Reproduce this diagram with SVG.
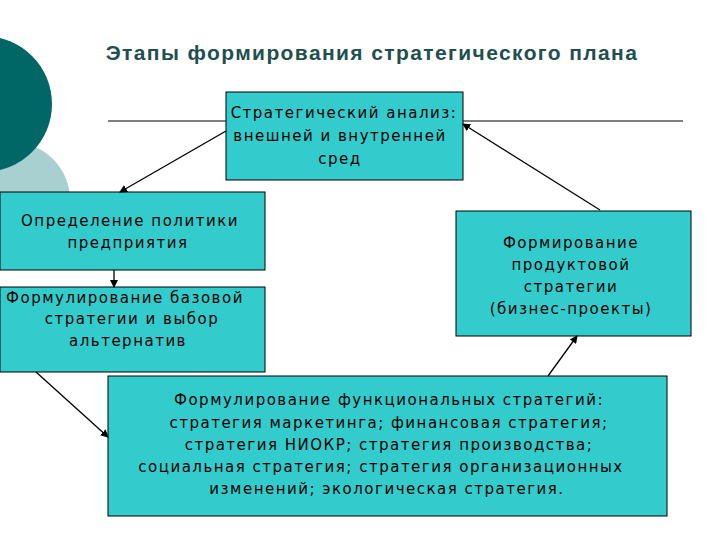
<svg xmlns="http://www.w3.org/2000/svg" width="720" height="540" viewBox="0 0 720 540">
<style>
.box{fill:#33cccc;stroke:#000;stroke-width:1}
text{font-family:"DejaVu Sans","Liberation Sans",sans-serif;font-size:15px;letter-spacing:1.5px;fill:#000;text-anchor:middle}
.c{stroke:#000;stroke-width:1.3;fill:none;marker-end:url(#a)}
</style>
<defs><marker id="a" markerWidth="8" markerHeight="8" refX="7" refY="4" orient="auto" markerUnits="userSpaceOnUse"><path d="M0,0L8,4L0,8z" fill="#000"/></marker></defs>
<rect width="720" height="540" fill="#fff"/>
<circle cx="12" cy="200" r="58" fill="#a8d0d0"/>
<circle cx="-16" cy="104" r="68" fill="#006666"/>
<text x="372" y="60" style="font-family:'Liberation Sans',Arial,sans-serif;font-weight:bold;font-size:21px;letter-spacing:1.4px;fill:#1f4f4f">Этапы формирования стратегического плана</text>
<line x1="108" y1="121" x2="683" y2="121" stroke="#000"/>
<g id="n1"><rect class="box" x="226" y="92" width="237" height="88"/><text x="344" y="118">Стратегический анализ:</text><text x="340" y="141">внешней и внутренней</text><text x="340" y="164">сред</text></g>
<g id="n2"><rect class="box" x="0" y="192" width="265" height="78"/><text x="130" y="226">Определение политики</text><text x="128" y="248">предприятия</text></g>
<g id="n3"><rect class="box" x="0" y="287" width="265" height="85"/><text x="125" y="303">Формулирование базовой</text><text x="132" y="324">стратегии и выбор</text><text x="128" y="346">альтернатив</text></g>
<g id="n4"><rect class="box" x="456" y="211" width="235" height="125"/><text x="571" y="248">Формирование</text><text x="571" y="270">продуктовой</text><text x="571" y="292">стратегии</text><text x="571" y="314">(бизнес-проекты)</text></g>
<g id="n5"><rect class="box" x="108" y="376" width="559" height="140"/><text x="389" y="405">Формулирование функциональных стратегий:</text><text x="389" y="428">стратегия маркетинга; финансовая стратегия;</text><text x="389" y="450">стратегия НИОКР; стратегия производства;</text><text x="381" y="472">социальная стратегия; стратегия организационных</text><text x="387" y="494">изменений; экологическая стратегия.</text></g>
<g id="connectors">
<line class="c" x1="226" y1="131" x2="120" y2="192"/>
<line class="c" x1="114" y1="270" x2="114" y2="287"/>
<line class="c" x1="36" y1="372" x2="108" y2="437"/>
<line class="c" x1="548" y1="376" x2="577" y2="336"/>
<line class="c" x1="600" y1="210" x2="463" y2="124"/>
</g>
</svg>
